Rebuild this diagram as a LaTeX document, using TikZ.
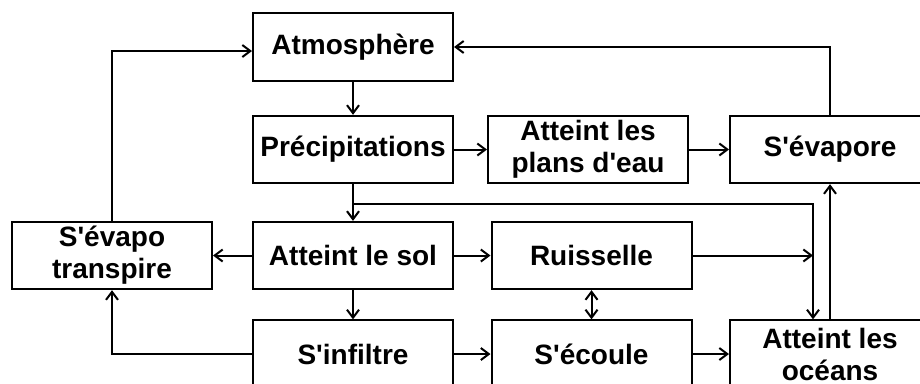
\documentclass[tikz,border=0pt]{standalone}
\usepackage{fontspec}
\setmainfont{Liberation Sans}
\usetikzlibrary{arrows.meta,calc}

\newcommand{\apos}{\textquotesingle}
\tikzset{
  etape/.style={draw, line width=1.5pt, minimum width=150pt, minimum height=50.5pt,
    inner sep=0pt, align=center, font=\fontsize{21}{24}\selectfont\bfseries},
  pointe/.tip={Straight Barb[length=6pt,width=9pt,line width=1.5pt]},
  fleche/.style={line width=1.5pt, -{pointe}},
  double fleche/.style={line width=1.5pt, {pointe}-{pointe}}
}

\begin{document}
\begin{tikzpicture}[x=0.75pt,y=0.75pt,yscale=-1,xscale=1]
  \useasboundingbox (0,0) rectangle (920,383);
  \clip (0,0) rectangle (920,383);
  % boites
  \node[etape] (atm) at (353,47) {Atmosphère};
  \node[etape] (prec) at (353,149.5) {Précipitations};
  \node[etape] (plans) at (588,149.5) {Atteint les\\plans d\apos eau};
  \node[etape] (evap) at (830,149.5) {S\apos évapore};
  \node[etape] (evt) at (112,255.5) {S\apos évapo\\transpire};
  \node[etape] (sol) at (353,255.5) {Atteint le sol};
  \node[etape] (ruis) at (591.5,255.5) {Ruisselle};
  \node[etape] (infil) at (353,354) {S\apos infiltre};
  \node[etape] (ecoule) at (591.5,354) {S\apos écoule};
  \node[etape] (oceans) at (830,354) {Atteint les\\océans};
  % points de passage
  \coordinate (branche) at ($(prec.south)!0.55!(sol.north)$);
  \coordinate (chute) at ($(oceans.north)+(-17,0)$);
  % fleches
  \draw[fleche] (atm) -- (prec);
  \draw[fleche] (prec) -- (plans);
  \draw[fleche] (plans) -- (evap);
  \draw[fleche] (evap.north) |- (atm.east);
  \draw[fleche] (prec) -- (sol);
  \draw[fleche] (branche) -| (chute);
  \draw[fleche] (sol) -- (evt);
  \draw[fleche] (sol) -- (ruis);
  \draw[fleche] (ruis.east) -- (ruis -| chute);
  \draw[double fleche] (ruis) -- (ecoule);
  \draw[fleche] (sol) -- (infil);
  \draw[fleche] (infil) -- (ecoule);
  \draw[fleche] (ecoule) -- (oceans);
  \draw[fleche] (infil.west) -| (evt.south);
  \draw[fleche] (oceans.north) -- (evap.south);
  \draw[fleche] (evt.north) |- ($(atm.west)+(0,4)$);
\end{tikzpicture}
\end{document}
